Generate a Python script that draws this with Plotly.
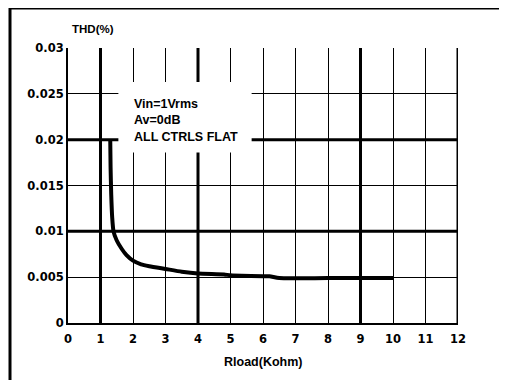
import plotly.graph_objects as go

# Data
rload_kohm = [1.30, 1.31, 1.33, 1.36, 1.40, 1.50, 1.65, 1.80, 2.00, 2.25, 2.50, 3.00, 3.50, 4.00, 4.80, 5.00, 6.00, 6.20, 6.50, 8.00, 10.00]
thd_pct = [0.0200, 0.0170, 0.0140, 0.0115, 0.0100, 0.0090, 0.0081, 0.0074, 0.0068, 0.0064, 0.0062, 0.0059, 0.0056, 0.0054, 0.0053, 0.0052, 0.0051, 0.0051, 0.0049, 0.0049, 0.0049]

x_ticks = list(range(0, 13))
x_tick_labels = [str(v) for v in x_ticks]
y_ticks = [0, 0.005, 0.01, 0.015, 0.02, 0.025, 0.03]
y_tick_labels = ["0", "0.005", "0.01", "0.015", "0.02", "0.025", "0.03"]
thick_x = [1, 4, 9, 12]
thick_y = [0.01, 0.02]
note_lines = ["Vin=1Vrms", "Av=0dB", "ALL CTRLS FLAT"]
note_box_x = [1.55, 5.65]
note_box_y = [0.0186, 0.0263]

FONT = "Liberation Sans"
TICKFONT = "DejaVu Sans"

fig = go.Figure()
fig.add_trace(go.Scatter(x=rload_kohm, y=thd_pct, mode="lines",
                         line=dict(color="black", width=4, shape="spline", smoothing=0.6),
                         hoverinfo="skip", showlegend=False))

shapes = []
for xv in thick_x:
    shapes.append(dict(type="line", xref="x", yref="y", x0=xv, x1=xv, y0=0, y1=0.03,
                       line=dict(color="black", width=3), layer="between"))
for yv in thick_y:
    shapes.append(dict(type="line", xref="x", yref="y", x0=0, x1=12, y0=yv, y1=yv,
                       line=dict(color="black", width=3), layer="between"))
# white note box
shapes.append(dict(type="rect", xref="x", yref="y", x0=note_box_x[0], x1=note_box_x[1],
                   y0=note_box_y[0], y1=note_box_y[1], fillcolor="white",
                   line=dict(width=0), layer="between"))
# outer frame (left and top)
shapes.append(dict(type="line", xref="paper", yref="paper", x0=-0.1487, x1=-0.1487, y0=-0.25, y1=1.1455,
                   line=dict(color="black", width=3)))
shapes.append(dict(type="line", xref="paper", yref="paper", x0=-0.1487, x1=1.1077, y0=1.1455, y1=1.1455,
                   line=dict(color="black", width=3)))

annotations = [
    dict(x=1.97, y=0.0249, xref="x", yref="y", xanchor="left", yanchor="top", align="left",
         text="<br>".join(note_lines), showarrow=False,
         font=dict(family=FONT, size=12.5, color="black", weight="bold")),
    dict(x=0.005, y=1.069, xref="paper", yref="paper", xanchor="left", yanchor="middle",
         text="THD(%)", showarrow=False,
         font=dict(family=FONT, size=11.5, color="black", weight="bold")),
    dict(x=0.5, y=-0.142, xref="paper", yref="paper", xanchor="center", yanchor="middle",
         text="Rload(Kohm)", showarrow=False,
         font=dict(family=FONT, size=12.5, color="black", weight="bold")),
]

fig.update_layout(
    width=507, height=380,
    margin=dict(l=60, r=57, t=40, b=65),
    paper_bgcolor="white", plot_bgcolor="white",
    shapes=shapes, annotations=annotations,
    font=dict(family=FONT, size=11, color="black", weight="bold"),
    xaxis=dict(range=[0, 12], tickvals=x_ticks, ticktext=x_tick_labels,
               tickfont=dict(family=TICKFONT, size=11.5, color="black", weight="bold"),
               showgrid=True, gridcolor="black", gridwidth=1,
               showline=True, linecolor="black", linewidth=2, mirror=False,
               zeroline=False, ticks="outside", ticklen=4, tickcolor="white",
               fixedrange=True),
    yaxis=dict(range=[0, 0.03], tickvals=y_ticks, ticktext=y_tick_labels,
               tickfont=dict(family=TICKFONT, size=11.5, color="black", weight="bold"),
               showgrid=True, gridcolor="black", gridwidth=1,
               showline=True, linecolor="black", linewidth=2,
               zeroline=False, ticks="", fixedrange=True),
)

fig.write_html("out.html")
